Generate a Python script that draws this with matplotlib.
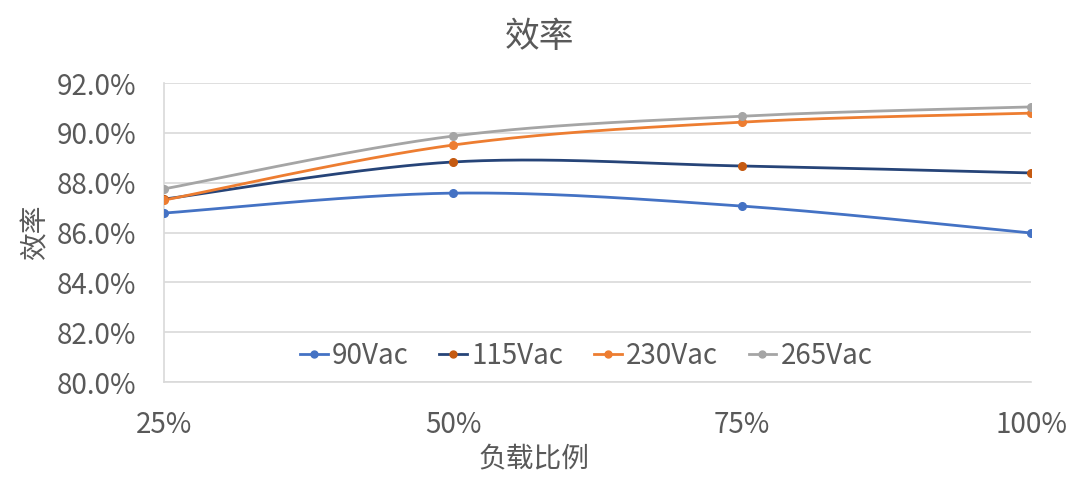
import numpy as np
import matplotlib.pyplot as plt

plt.rcParams['font.family'] = ['Noto Sans CJK SC', 'DejaVu Sans']

load = [25, 50, 75, 100]
load_labels = ['25%', '50%', '75%', '100%']
series_names = ['90Vac', '115Vac', '230Vac', '265Vac']
eff_90 = [86.78, 87.58, 87.06, 85.98]
eff_115 = [87.34, 88.83, 88.67, 88.39]
eff_230 = [87.30, 89.51, 90.43, 90.79]
eff_265 = [87.75, 89.87, 90.67, 91.04]

line_colors = ['#4472C4', '#264478', '#ED7D31', '#A5A5A5']
marker_colors = ['#4472C4', '#C55A11', '#ED7D31', '#A5A5A5']
text_color = '#595959'


def smooth(x, y, n=60, t=0.5):
    # cardinal spline through the points, like Excel's smoothed line
    x = np.asarray(x, float)
    y = np.asarray(y, float)
    px = np.concatenate([[x[0]], x, [x[-1]]])
    py = np.concatenate([[y[0]], y, [y[-1]]])
    xs, ys = [], []
    s = np.linspace(0, 1, n)
    for i in range(1, len(px) - 2):
        p0, p1, p2, p3 = (np.array([px[j], py[j]]) for j in range(i - 1, i + 3))
        m1 = t * (p2 - p0)
        m2 = t * (p3 - p1)
        h00 = 2 * s**3 - 3 * s**2 + 1
        h10 = s**3 - 2 * s**2 + s
        h01 = -2 * s**3 + 3 * s**2
        h11 = s**3 - s**2
        pts = np.outer(h00, p1) + np.outer(h10, m1) + np.outer(h01, p2) + np.outer(h11, m2)
        xs.append(pts[:, 0])
        ys.append(pts[:, 1])
    return np.concatenate(xs), np.concatenate(ys)


fig = plt.figure(figsize=(10.8, 4.78), dpi=100)
ax = fig.add_axes([164 / 1080, 1 - 382 / 478, (1031 - 164) / 1080, (382 - 83) / 478])

for name, vals, lc, mc in zip(series_names, [eff_90, eff_115, eff_230, eff_265],
                              line_colors, marker_colors):
    sx, sy = smooth(load, vals)
    ax.plot(sx, sy, color=lc, lw=2, zorder=3)
    ax.plot(load, vals, 'o', color=mc, ms=5.5, zorder=4)
    ax.plot([], [], '-o', color=lc, mfc=mc, mec=mc, lw=2, ms=5, label=name)

ax.set_xlim(25, 100)
ax.set_ylim(80, 92)
ax.set_xticks(load)
ax.set_xticklabels(load_labels)
ax.set_yticks(np.arange(80, 92.1, 2))
ax.set_yticklabels([f'{v:.1f}%' for v in np.arange(80, 92.1, 2)])
ax.grid(axis='y', color='#D9D9D9', lw=1.2)
ax.set_axisbelow(True)
for side in ['top', 'right']:
    ax.spines[side].set_visible(False)
for side in ['left', 'bottom']:
    ax.spines[side].set_color('#D9D9D9')
    ax.spines[side].set_linewidth(1.2)
ax.tick_params(length=0, labelsize=20, colors=text_color)
ax.tick_params(axis='x', pad=20)
ax.tick_params(axis='y', pad=20)

fig.text(0.5, 1 - 37 / 478, '效率', fontsize=25, color=text_color, ha='center', va='center')
fig.text(534 / 1080, 1 - 458 / 478, '负载比例', fontsize=20, color=text_color,
         ha='center', va='center')
ax.set_ylabel('效率', fontsize=20, color=text_color, labelpad=4)

leg = ax.legend(loc='center', bbox_to_anchor=(0.487, 0.087), ncol=4, frameon=False,
                fontsize=20, labelcolor=text_color, handlelength=1.0,
                handletextpad=0.15, columnspacing=1.1, borderpad=0)

fig.savefig('out.png', dpi=100, facecolor='white')
